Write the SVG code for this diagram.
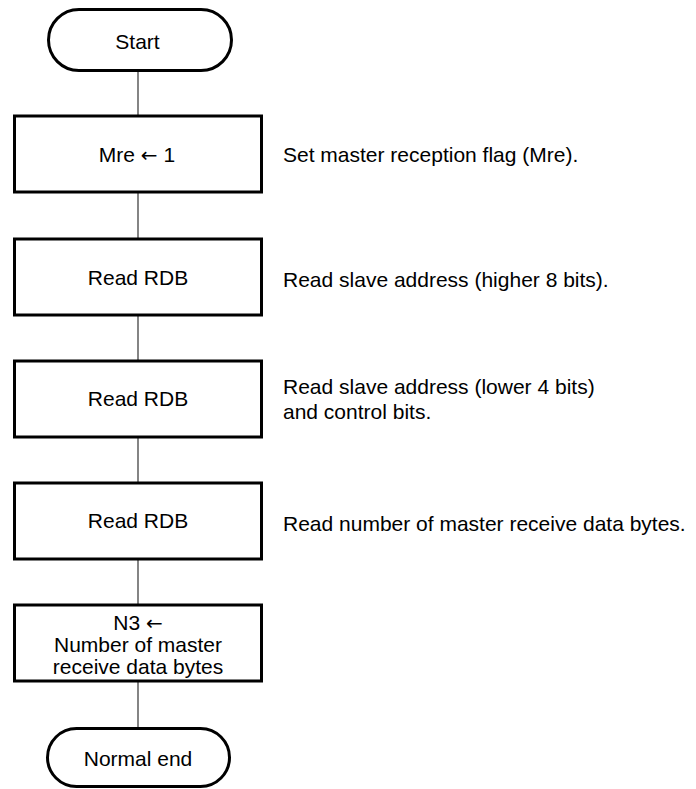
<svg xmlns="http://www.w3.org/2000/svg" width="696" height="789" viewBox="0 0 696 789">
<style>
.box{fill:#fff;stroke:#000;stroke-width:3}
.t{font-family:"Liberation Sans",Arial,sans-serif;font-size:21px;fill:#000}
.c{text-anchor:middle}
.arr{font-family:"DejaVu Sans",sans-serif;font-size:20px}
.conn line{stroke:#333;stroke-width:1.2}
</style>
<rect width="696" height="789" fill="#fff"/>
<g id="connectors" class="conn">
<line x1="138" y1="71" x2="138" y2="116"/>
<line x1="138" y1="192" x2="138" y2="239"/>
<line x1="138" y1="315" x2="138" y2="361"/>
<line x1="138" y1="437" x2="138" y2="483"/>
<line x1="138" y1="559" x2="138" y2="605"/>
<line x1="138" y1="681" x2="138" y2="728"/>
</g>
<g id="start">
<rect class="box" x="48.5" y="9.5" width="183" height="61" rx="30.5"/>
<text class="t c" x="137.5" y="49">Start</text>
</g>
<g id="set-mre">
<rect class="box" x="14.5" y="116" width="247" height="76"/>
<text class="t c" x="137" y="162">Mre <tspan class="arr">←</tspan> 1</text>
<text class="t" x="283" y="162">Set master reception flag (Mre).</text>
</g>
<g id="read-rdb-1">
<rect class="box" x="14.5" y="239" width="247" height="76"/>
<text class="t c" x="138" y="285">Read RDB</text>
<text class="t" x="283" y="287">Read slave address (higher 8 bits).</text>
</g>
<g id="read-rdb-2">
<rect class="box" x="14.5" y="361" width="247" height="76"/>
<text class="t c" x="138" y="406">Read RDB</text>
<text class="t" x="283" y="394">Read slave address (lower 4 bits)</text>
<text class="t" x="283" y="419">and control bits.</text>
</g>
<g id="read-rdb-3">
<rect class="box" x="14.5" y="483" width="247" height="76"/>
<text class="t c" x="138" y="528">Read RDB</text>
<text class="t" x="283" y="531">Read number of master receive data bytes.</text>
</g>
<g id="set-n3">
<rect class="box" x="14.5" y="605" width="247" height="76"/>
<text class="t c" x="138" y="630">N3 <tspan class="arr">←</tspan></text>
<text class="t c" x="138" y="652">Number of master</text>
<text class="t c" x="138" y="674">receive data bytes</text>
</g>
<g id="end">
<rect class="box" x="47.5" y="728.5" width="182" height="58" rx="29"/>
<text class="t c" x="138" y="766">Normal end</text>
</g>
</svg>
